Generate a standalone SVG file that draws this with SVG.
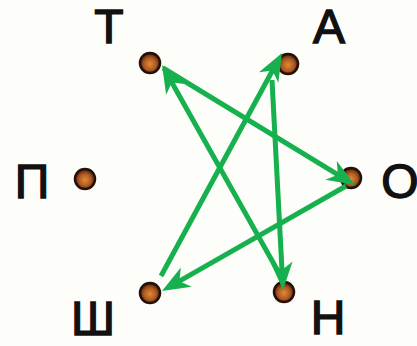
<svg xmlns="http://www.w3.org/2000/svg" width="417" height="346" viewBox="0 0 417 346">
<defs>
<radialGradient id="dotg" cx="50%" cy="55%" r="50%">
<stop offset="0" stop-color="#e08a3a"/>
<stop offset="0.6" stop-color="#b05a20"/>
<stop offset="1" stop-color="#5a2a0e"/>
</radialGradient>
<marker id="ah" markerUnits="userSpaceOnUse" viewBox="-18 -13 32 26" markerWidth="32" markerHeight="26" refX="0" refY="0" orient="auto">
<path d="M12,0 L-16,-11 L-8,0 L-16,11 Z" fill="#16b04e"/>
</marker>
</defs>
<style>
.dot{fill:url(#dotg);stroke:#241008;stroke-width:2.5}
.lbl{font-family:"Liberation Sans",Arial,sans-serif;font-size:48px;fill:#111;stroke:#111;stroke-width:1.4;text-anchor:middle}
.c{stroke:#16b04e;stroke-width:5;fill:none;marker-end:url(#ah)}
</style>
<rect width="417" height="346" fill="#fdfdf9"/>
<g id="node-T"><circle class="dot" cx="150" cy="63" r="10"/><text class="lbl" x="109" y="43">Т</text></g>
<g id="node-A"><circle class="dot" cx="288" cy="64" r="10"/><text class="lbl" x="329" y="43">А</text></g>
<g id="node-P"><circle class="dot" cx="85" cy="179" r="10"/><text class="lbl" x="32" y="198">П</text></g>
<g id="node-O"><circle class="dot" cx="351" cy="178" r="10"/><text class="lbl" x="400" y="198">О</text></g>
<g id="node-Sh"><circle class="dot" cx="150" cy="293" r="10"/><text class="lbl" x="93" y="335">Ш</text></g>
<g id="node-N"><circle class="dot" cx="284" cy="292" r="10"/><text class="lbl" x="328" y="334">Н</text></g>
<g id="connectors">
<line class="c" x1="163" y1="68" x2="344.7" y2="178.8"/>
<line class="c" x1="346" y1="186" x2="172.4" y2="285.1"/>
<line class="c" x1="161" y1="276" x2="276.3" y2="63.5"/>
<line class="c" x1="272" y1="80" x2="282.4" y2="278"/>
<line class="c" x1="279" y1="273" x2="167.9" y2="75.5"/>
</g>
</svg>
